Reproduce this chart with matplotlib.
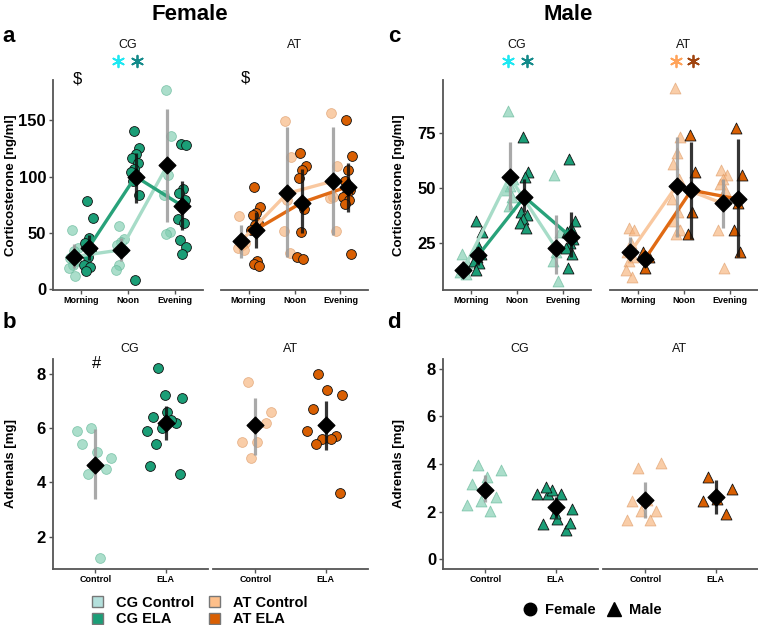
import numpy as np
import matplotlib
matplotlib.use('Agg')
import matplotlib.pyplot as plt
from matplotlib.patches import Patch
from matplotlib.lines import Line2D

plt.rcParams['font.family'] = ['Liberation Sans', 'DejaVu Sans']
plt.rcParams['font.weight'] = 'bold'

# Categories
times = ['Morning', 'Noon', 'Evening']
adr_groups = ['Control', 'ELA']

# Female corticosterone (panel a), one list per time point
f_cg_ctrl = [[53, 37, 34, 28, 25, 22, 19, 12], [56, 45, 42, 39, 35, 22, 17], [177, 136, 101, 84, 51, 49]]
f_cg_ctrl_mean = [29, 35, 110]
f_cg_ctrl_lo = [19, 25, 60]
f_cg_ctrl_hi = [40, 46, 160]
f_cg_ela = [[78, 63, 46, 41, 35, 29, 22, 20, 16],
            [140, 125, 120, 116, 112, 107, 104, 100, 96, 84, 8],
            [129, 128, 89, 85, 79, 75, 62, 59, 44, 38, 31]]
f_cg_ela_mean = [37, 100, 74]
f_cg_ela_lo = [26, 77, 53]
f_cg_ela_hi = [48, 121, 96]
f_at_ctrl = [[65, 41, 39, 37, 35], [149, 117, 79, 52, 32], [156, 109, 82, 81, 52]]
f_at_ctrl_mean = [43, 85, 96]
f_at_ctrl_lo = [28, 29, 48]
f_at_ctrl_hi = [57, 144, 144]
f_at_ela = [[91, 73, 68, 66, 59, 57, 53, 25, 23, 21],
            [121, 109, 106, 99, 71, 51, 29, 27],
            [150, 118, 106, 96, 88, 85, 82, 79, 76, 31]]
f_at_ela_mean = [53, 77, 91]
f_at_ela_lo = [37, 50, 69]
f_at_ela_hi = [69, 107, 112]

# Male corticosterone (panel c)
m_cg_ctrl = [[20, 16, 14, 12, 11], [85, 54, 51, 49, 46, 42], [56, 30, 21, 17, 8]]
m_cg_ctrl_mean = [13, 55, 23]
m_cg_ctrl_lo = [10, 40, 11]
m_cg_ctrl_hi = [17, 71, 38]
m_cg_ela = [[35, 30, 24, 22, 20, 19, 17, 16, 13],
            [73, 57, 55, 39, 38, 36, 34, 32],
            [63, 35, 32, 30, 27, 25, 23, 20, 14]]
m_cg_ela_mean = [19.5, 46, 28]
m_cg_ela_lo = [15, 39, 19]
m_cg_ela_hi = [23, 54, 39]
m_at_ctrl = [[32, 31, 25, 21, 19, 17, 13, 10],
             [95, 73, 66, 61, 54, 52, 45, 39, 35, 31, 29],
             [58, 56, 54, 52, 49, 46, 31, 14]]
m_at_ctrl_mean = [21, 51, 43]
m_at_ctrl_lo = [17, 28, 32]
m_at_ctrl_hi = [28, 73, 54]
m_at_ela = [[21, 19, 14], [74, 57, 39, 29], [77, 56, 43, 31, 21]]
m_at_ela_mean = [18, 49, 45]
m_at_ela_lo = [15, 27, 19]
m_at_ela_hi = [21, 71, 72]

# Adrenal weights (panels b and d): [Control, ELA]
f_adr_cg = [[4.3, 4.9, 5.1, 5.4, 4.5, 6.0, 5.9, 1.2],
            [8.2, 7.1, 6.6, 6.4, 6.2, 6.0, 5.9, 6.3, 5.4, 4.3, 7.2, 4.6]]
f_adr_cg_mean = [4.65, 6.2]
f_adr_cg_lo = [3.4, 5.55]
f_adr_cg_hi = [5.95, 6.8]
f_adr_at = [[7.7, 6.6, 5.5, 5.5, 6.2, 4.9],
            [8.0, 7.2, 7.4, 6.7, 5.7, 5.6, 5.9, 5.6, 5.4, 3.6]]
f_adr_at_mean = [6.1, 6.1]
f_adr_at_lo = [5.0, 5.2]
f_adr_at_hi = [7.1, 7.0]
m_adr_cg = [[3.95, 3.74, 3.46, 3.15, 2.62, 2.44, 2.3, 2.02],
            [2.73, 2.13, 1.71, 1.5, 1.23, 2.93, 2.76, 2.76, 3.04, 1.53, 1.95]]
m_adr_cg_mean = [2.93, 2.18]
m_adr_cg_lo = [2.41, 1.75]
m_adr_cg_hi = [3.53, 2.6]
m_adr_at = [[3.84, 4.03, 2.51, 2.44, 2.04, 2.04, 1.65, 1.65],
            [3.46, 2.94, 2.53, 2.43, 1.92]]
m_adr_at_mean = [2.48, 2.62]
m_adr_at_lo = [1.72, 1.92]
m_adr_at_hi = [3.25, 3.32]

# Colours
CG_CTRL = dict(fill='#7fcdb0', edge='#5fb595', alpha=0.65, line='#a7dcc8', bar='#9a9a9a', legend='#b4e0dc')
CG_ELA = dict(fill='#1b9e77', edge='#111111', alpha=1.0, line='#28a27a', bar='#111111', legend='#1b9e77')
AT_CTRL = dict(fill='#f7b27a', edge='#dd9a66', alpha=0.65, line='#f9c8a0', bar='#9a9a9a', legend='#fdbf8a')
AT_ELA = dict(fill='#d95f02', edge='#111111', alpha=1.0, line='#e06a14', bar='#111111', legend='#d95f02')
AXIS_COL = '#555555'

W, H = 758, 625


def box(x0, x1, ytop, ybot):
    """Axes rectangle from pixel edges."""
    return [x0 / W, 1 - ybot / H, (x1 - x0) / W, (ybot - ytop) / H]


def jitter(n, width):
    """Spread the points of a group sideways (fixed pattern, no randomness)."""
    k = np.arange(n)
    return ((k * 0.618034 + 0.3) % 1.0 - 0.5) * 2 * width


def draw_series(ax, xs, pts, means, lo, hi, st, marker, jit, connect):
    for x, vals in zip(xs, pts):
        ax.scatter(x + jitter(len(vals), jit), vals, s=50 if marker == 'o' else 62, marker=marker,
                   c=st['fill'], edgecolors=st['edge'], linewidths=0.6, alpha=st['alpha'], zorder=2)
    if connect:
        ax.plot(xs, means, color=st['line'], lw=2.4, zorder=3)
    ax.vlines(xs, lo, hi, colors=st['bar'], lw=2.3, alpha=0.85, zorder=4)
    ax.scatter(xs, means, marker='D', s=72, c='black', zorder=5)


def style_axes(ax, first, xlabels, xlim, ylim, yticks):
    ax.set_xlim(*xlim)
    ax.set_ylim(*ylim)
    ax.set_xticks(range(1, len(xlabels) + 1))
    ax.set_xticklabels(xlabels)
    for s in ['top', 'right']:
        ax.spines[s].set_visible(False)
    ax.spines['bottom'].set_color(AXIS_COL)
    ax.spines['bottom'].set_linewidth(1.3)
    ax.tick_params(axis='x', colors=AXIS_COL, length=3, width=1, pad=1, labelsize=6.5, labelcolor='black')
    if first:
        ax.spines['left'].set_color(AXIS_COL)
        ax.spines['left'].set_linewidth(1.3)
        ax.set_yticks(yticks)
        ax.tick_params(axis='y', colors=AXIS_COL, length=3, width=1, pad=2, labelsize=12, labelcolor='black')
    else:
        ax.spines['left'].set_visible(False)
        ax.set_yticks([])


def cort_panel(x_cg, x_at, ylim, yticks, cg_data, at_data, marker):
    dodge = 0.16
    xs = np.arange(1, 4)
    for (x0, x1), data, first in [(x_cg, cg_data, True), (x_at, at_data, False)]:
        ax = fig.add_axes(box(x0, x1, 80, 290))
        (c_pts, c_m, c_lo, c_hi, c_st), (e_pts, e_m, e_lo, e_hi, e_st) = data
        draw_series(ax, xs - dodge, c_pts, c_m, c_lo, c_hi, c_st, marker, 0.1, True)
        draw_series(ax, xs + dodge, e_pts, e_m, e_lo, e_hi, e_st, marker, 0.1, True)
        style_axes(ax, first, times, (0.4, 3.6), ylim, yticks)


def adr_panel(x_cg, x_at, ylim, yticks, cg_data, at_data, marker):
    for (x0, x1), data, first in [(x_cg, cg_data, True), (x_at, at_data, False)]:
        ax = fig.add_axes(box(x0, x1, 359, 569))
        pts, m, lo, hi, styles = data
        for i, st in enumerate(styles):
            draw_series(ax, [i + 1], [pts[i]], [m[i]], [lo[i]], [hi[i]], st, marker, 0.27, False)
        style_axes(ax, first, adr_groups, (0.4, 2.6), ylim, yticks)


def ftext(x, y, s, **kw):
    fig.text(x / W, 1 - y / H, s, ha=kw.pop('ha', 'center'), va=kw.pop('va', 'center'), **kw)


fig = plt.figure(figsize=(7.58, 6.25), dpi=100)

# Corticosterone panels
cort_panel((53, 203), (221, 368), (-0.45, 185.45), [0, 50, 100, 150],
           [(f_cg_ctrl, f_cg_ctrl_mean, f_cg_ctrl_lo, f_cg_ctrl_hi, CG_CTRL),
            (f_cg_ela, f_cg_ela_mean, f_cg_ela_lo, f_cg_ela_hi, CG_ELA)],
           [(f_at_ctrl, f_at_ctrl_mean, f_at_ctrl_lo, f_at_ctrl_hi, AT_CTRL),
            (f_at_ela, f_at_ela_mean, f_at_ela_lo, f_at_ela_hi, AT_ELA)], 'o')
cort_panel((443, 591), (610, 758), (3.9, 98.8), [25, 50, 75],
           [(m_cg_ctrl, m_cg_ctrl_mean, m_cg_ctrl_lo, m_cg_ctrl_hi, CG_CTRL),
            (m_cg_ela, m_cg_ela_mean, m_cg_ela_lo, m_cg_ela_hi, CG_ELA)],
           [(m_at_ctrl, m_at_ctrl_mean, m_at_ctrl_lo, m_at_ctrl_hi, AT_CTRL),
            (m_at_ela, m_at_ela_mean, m_at_ela_lo, m_at_ela_hi, AT_ELA)], '^')

# Adrenal panels
adr_panel((53, 208), (213, 368), (0.81, 8.54), [2, 4, 6, 8],
          (f_adr_cg, f_adr_cg_mean, f_adr_cg_lo, f_adr_cg_hi, [CG_CTRL, CG_ELA]),
          (f_adr_at, f_adr_at_mean, f_adr_at_lo, f_adr_at_hi, [AT_CTRL, AT_ELA]), 'o')
adr_panel((443, 598), (603, 758), (-0.4, 8.4), [0, 2, 4, 6, 8],
          (m_adr_cg, m_adr_cg_mean, m_adr_cg_lo, m_adr_cg_hi, [CG_CTRL, CG_ELA]),
          (m_adr_at, m_adr_at_mean, m_adr_at_lo, m_adr_at_hi, [AT_CTRL, AT_ELA]), '^')

# Titles, panel letters, axis labels
ftext(190, 14, 'Female', fontsize=16)
ftext(568, 14, 'Male', fontsize=16)
for x, y, s in [(9, 37, 'a'), (9, 322, 'b'), (394, 37, 'c'), (394, 322, 'd')]:
    ftext(x, y, s, fontsize=16)
for x in [11, 399]:
    ftext(x, 185, 'Corticosterone [ng/ml]', fontsize=9.5, rotation=90)
    ftext(x, 464, 'Adrenals [mg]', fontsize=9.5, rotation=90)

# Facet strip labels
for x, y, s in [(128, 45, 'CG'), (295, 45, 'AT'), (517, 45, 'CG'), (684, 45, 'AT'),
                (130, 349, 'CG'), (291, 349, 'AT'), (520, 349, 'CG'), (680, 349, 'AT')]:
    ftext(x, y, s, fontsize=9, fontweight='normal', color='#111111')

# Significance marks
ftext(77, 79, '$', fontsize=12, fontweight='normal')
ftext(245, 78, '$', fontsize=12, fontweight='normal')
ftext(97, 363, '#', fontsize=12, fontweight='normal')
ov = fig.add_axes([0, 0, 1, 1])
ov.set_xlim(0, W)
ov.set_ylim(H, 0)
ov.axis('off')
ov.patch.set_alpha(0)
for x, col in [(118, '#1ee8f2'), (137, '#138a8a'), (508, '#1ee8f2'), (527, '#138a8a'),
               (676, '#ffa35a'), (693, '#a0440f')]:
    ov.scatter([x], [61], marker=(6, 2, 0), s=70, c=col, linewidths=1.3)

# Legends
group_handles = [Patch(facecolor=st['legend'], edgecolor='#777777', label=lab)
                 for st, lab in [(CG_CTRL, 'CG Control'), (CG_ELA, 'CG ELA'),
                                 (AT_CTRL, 'AT Control'), (AT_ELA, 'AT ELA')]]
fig.legend(handles=group_handles, ncol=2, loc='center', bbox_to_anchor=(200 / W, 1 - 611 / H),
           frameon=False, prop={'size': 10.5, 'weight': 'bold'}, handlelength=0.75, handleheight=0.75,
           handletextpad=0.9, columnspacing=1.0, labelspacing=0.2)
sex_handles = [Line2D([], [], marker='o', color='black', ls='none', markersize=9, label='Female'),
               Line2D([], [], marker='^', color='black', ls='none', markersize=10, label='Male')]
fig.legend(handles=sex_handles, ncol=2, loc='center', bbox_to_anchor=(592 / W, 1 - 610 / H),
           frameon=False, prop={'size': 10.5, 'weight': 'bold'}, handlelength=1.0,
           handletextpad=0.5, columnspacing=0.8)

fig.savefig('out.png', dpi=100)
